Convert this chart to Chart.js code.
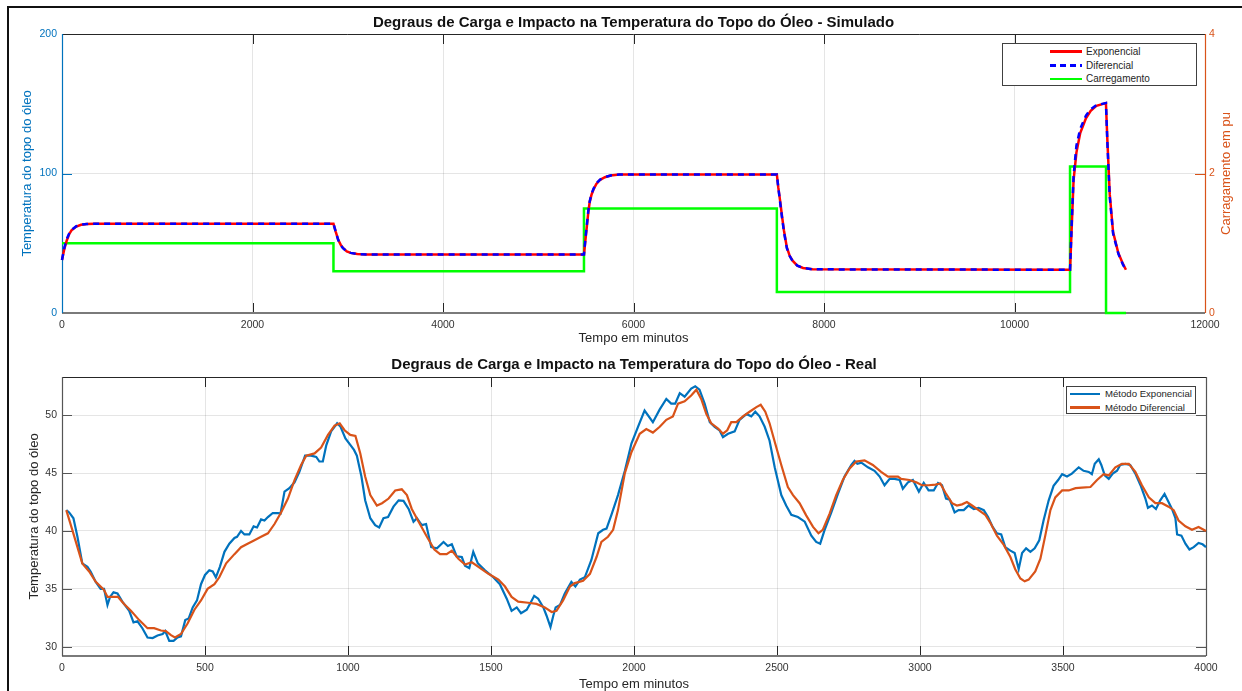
<!DOCTYPE html>
<html lang="pt-BR">
<head>
<meta charset="utf-8">
<title>Degraus de Carga e Impacto na Temperatura do Topo do Óleo</title>
<script src="https://cdn.jsdelivr.net/npm/chart.js@4.4.1/dist/chart.umd.min.js"></script>
<style>
    html, body { margin: 0; padding: 0; background: #fff; overflow: hidden; }
    body { position: relative; width: 1242px; height: 691px; font-family: "Liberation Sans", Arial, sans-serif; }
    .moldura { position: absolute; left: 7px; top: 6px; width: 1240px; height: 690px; border-left: 2px solid #111; border-top: 2px solid #111; }
    #graficoSim { position: absolute; left: 0; top: 0; }
    #graficoReal { position: absolute; left: 0; top: 352px; }
    .legenda { position: absolute; background: #fff; border: 1px solid #404040; box-sizing: border-box; color: #262626; }
    .legenda .amostra { position: absolute; height: 2.5px; }
    .legenda .texto { position: absolute; white-space: nowrap; line-height: 1; }
</style>
</head>
<body>
<div class="moldura"></div>
<canvas id="graficoSim" width="1242" height="352"></canvas>
<canvas id="graficoReal" width="1242" height="345"></canvas>
<div class="legenda" id="legSim" style="left:1002px; top:43px; width:195px; height:43px;"></div>
<div class="legenda" id="legReal" style="left:1066px; top:386px; width:130px; height:28px;"></div>
<script>
// ---- Dados: gráfico simulado (tempo em minutos) ----
const tempoSimExp = [0, 25, 50, 75, 100, 150, 200, 260, 350, 2850, 2875, 2900, 2925, 2950, 2990, 3030, 3100, 3200,
    5480, 5495, 5510, 5525, 5540, 5560, 5580, 5610, 5650, 5700, 5760, 5850, 7505, 7520, 7540, 7560, 7580, 7610, 7640,
    7670, 7720, 7780, 7880, 10583, 10600, 10620, 10650, 10690, 10750, 10800, 10860, 10960, 10975, 11000, 11035, 11090,
    11140, 11170];
const tempSimExp = [38, 46, 52, 56.5, 59.3, 62, 63.2, 63.8, 64, 64, 58, 52.5, 49, 46.6, 44.2, 43.1, 42.3, 42,
    42, 52, 62, 72, 79.5, 85, 88.5, 92.5, 95.5, 97.3, 98.5, 99.2, 99.3, 90, 80, 69, 59, 47, 41,
    37.5, 34, 32.3, 31.3, 31, 60, 95, 115, 129, 139.5, 145, 148.5, 150.5, 124, 85, 58, 43,
    35, 31];
const tempoSimDif = [0, 25, 50, 75, 100, 150, 200, 260, 350, 2850, 2875, 2900, 2925, 2950, 2990, 3030, 3100, 3200,
    5480, 5495, 5510, 5525, 5540, 5560, 5580, 5610, 5650, 5700, 5760, 5850, 7505, 7520, 7540, 7560, 7580, 7610, 7640,
    7670, 7720, 7780, 7880, 10583, 10600, 10620, 10650, 10690, 10750, 10800, 10860, 10960, 10975, 11000, 11035, 11090,
    11140, 11170];
const tempSimDif = [38, 47, 53, 57, 59.6, 62.2, 63.3, 63.8, 64, 64, 58, 52.3, 48.8, 46.5, 44.2, 43.1, 42.3, 42,
    42, 53, 63, 73, 80, 85.5, 89, 93, 95.7, 97.4, 98.6, 99.2, 99.3, 90, 79, 68, 58, 46.5, 40.8,
    37.3, 34, 32.3, 31.3, 31, 63, 98, 120, 132, 141.5, 146, 149, 150.5, 122, 83, 57, 42.5,
    34.5, 31];
const tempoCarga = [0, 2850, 5480, 7505, 10583, 10961, 11171];
const carga = [1.0, 0.6, 1.5, 0.3, 2.1, 0, 0];

// ---- Dados: gráfico real ----
const tempoRealExp = [15, 25, 40, 54, 71, 89, 100, 118, 135, 147, 159, 168, 180, 194, 211, 235, 250, 264, 281, 299,
    317, 334, 352, 361, 375, 390, 404, 416, 431, 443, 457, 472, 486, 500, 515, 527, 538, 552, 568, 585,
    603, 612, 626, 638, 655, 670, 682, 696, 708, 720, 737, 755, 764, 778, 795, 813, 830, 850, 871, 889,
    900, 912, 924, 941, 962, 974, 991, 1006, 1021, 1031, 1047, 1060, 1078, 1095, 1109, 1124, 1140, 1159, 1177, 1194,
    1212, 1229, 1241, 1258, 1273, 1291, 1311, 1334, 1349, 1363, 1380, 1398, 1409, 1424, 1438, 1454, 1479, 1508, 1531, 1555,
    1572, 1590, 1605, 1625, 1636, 1651, 1665, 1683, 1694, 1708, 1718, 1726, 1741, 1758, 1781, 1795, 1811, 1828, 1851, 1875,
    1892, 1904, 1921, 1944, 1968, 1991, 2014, 2037, 2066, 2090, 2113, 2130, 2144, 2160, 2177, 2200, 2214, 2229, 2247, 2265,
    2282, 2299, 2311, 2329, 2352, 2369, 2393, 2410, 2424, 2439, 2457, 2474, 2492, 2515, 2532, 2550, 2573, 2597, 2620, 2637,
    2651, 2666, 2690, 2713, 2736, 2760, 2771, 2781, 2795, 2818, 2841, 2859, 2876, 2894, 2911, 2929, 2940, 2958, 2975, 2996,
    3013, 3030, 3048, 3063, 3077, 3091, 3104, 3121, 3135, 3153, 3170, 3188, 3205, 3223, 3238, 3254, 3269, 3284, 3298, 3316,
    3331, 3345, 3357, 3371, 3386, 3401, 3417, 3432, 3450, 3467, 3483, 3497, 3514, 3531, 3555, 3572, 3590, 3601, 3611, 3625,
    3634, 3646, 3660, 3674, 3689, 3700, 3718, 3735, 3753, 3771, 3788, 3797, 3811, 3825, 3840, 3855, 3869, 3881, 3893, 3899,
    3914, 3928, 3942, 3957, 3974, 3988, 4000];
const tempRealExp = [41.8, 41.6, 41.1, 39.5, 37.2, 36.9, 36.5, 35.6, 35.0, 35.0, 33.6, 34.3, 34.7, 34.6, 33.9, 33.1, 32.1, 32.2, 31.6, 30.8,
    30.75, 30.97, 31.1, 31.35, 30.5, 30.5, 30.8, 30.9, 32.3, 32.45, 33.4, 34.0, 35.4, 36.2, 36.6, 36.5, 36.0, 36.9, 38.2, 38.9,
    39.4, 39.5, 40.0, 39.7, 39.7, 40.4, 40.3, 41.0, 40.9, 41.2, 41.55, 41.55, 41.5, 43.4, 43.7, 44.2, 45.1, 46.5, 46.5, 46.4,
    46.0, 46.0, 47.4, 48.6, 49.3, 49.0, 48.0, 47.5, 47.0, 46.5, 44.7, 42.65, 41.1, 40.5, 40.3, 41.1, 41.2, 42.1, 42.65, 42.6,
    41.9, 40.8, 41.1, 40.5, 40.6, 38.6, 38.5, 39.05, 38.7, 38.85, 37.8, 37.75, 37.0, 36.8, 38.2, 37.2, 36.6, 36.0, 35.4, 34.15,
    33.1, 33.4, 32.9, 33.2, 33.7, 34.4, 34.15, 33.4, 32.7, 31.7, 32.7, 33.4, 33.6, 34.6, 35.6, 35.2, 35.8, 36.0, 37.5, 39.8,
    40.1, 40.2, 41.4, 43.1, 45.2, 47.55, 49.0, 50.4, 49.4, 50.5, 51.4, 51.0, 51.0, 51.9, 51.6, 52.3, 52.5, 52.2, 51.0, 49.4,
    49.0, 48.7, 48.1, 48.4, 48.6, 49.6, 50.1, 49.9, 50.3, 49.9, 49.0, 47.8, 45.5, 43.1, 42.2, 41.4, 41.2, 40.8, 39.6, 39.05,
    38.9, 40.05, 41.6, 43.2, 44.7, 45.7, 46.05, 45.8, 45.9, 45.5, 45.2, 44.7, 43.95, 44.5, 44.5, 44.4, 43.65, 44.2, 44.4, 43.4,
    44.15, 43.5, 43.5, 44.15, 43.95, 42.8, 42.7, 41.6, 41.8, 41.8, 42.2, 41.9, 42.0, 41.8, 41.2, 40.35, 39.8, 39.7, 38.6, 38.3,
    38.1, 36.7, 38.1, 38.5, 38.2, 38.5, 39.2, 40.9, 42.65, 43.9, 44.4, 44.9, 44.7, 44.95, 45.5, 45.2, 45.1, 44.9, 45.8, 46.2,
    45.7, 44.8, 44.5, 44.95, 45.2, 45.7, 45.8, 45.7, 44.95, 43.95, 42.8, 42.0, 42.2, 41.9, 42.65, 43.2, 42.5, 41.9, 41.1, 39.7,
    39.6, 38.9, 38.4, 38.6, 38.96, 38.85, 38.6];
const tempoRealDif = [15, 36, 54, 71, 95, 118, 147, 159, 176, 196, 217, 241, 270, 299, 322, 346, 363, 381, 395, 416,
    439, 463, 486, 509, 533, 550, 574, 603, 626, 649, 673, 696, 720, 743, 766, 790, 813, 836, 854, 883,
    906, 930, 953, 971, 988, 1008, 1026, 1043, 1060, 1078, 1101, 1119, 1142, 1165, 1188, 1206, 1223, 1247, 1276, 1302,
    1322, 1345, 1363, 1386, 1409, 1433, 1456, 1491, 1526, 1549, 1572, 1595, 1630, 1659, 1688, 1712, 1729, 1752, 1776, 1793,
    1822, 1846, 1869, 1886, 1909, 1927, 1944, 1968, 1991, 2020, 2043, 2066, 2090, 2113, 2136, 2154, 2177, 2200, 2218, 2235,
    2253, 2270, 2294, 2311, 2326, 2340, 2358, 2381, 2404, 2428, 2443, 2459, 2474, 2492, 2515, 2538, 2556, 2579, 2602, 2626,
    2645, 2660, 2684, 2707, 2730, 2754, 2777, 2806, 2835, 2864, 2888, 2923, 2934, 2963, 2987, 3007, 3030, 3054, 3071, 3089,
    3112, 3129, 3147, 3164, 3182, 3205, 3228, 3246, 3269, 3293, 3316, 3333, 3351, 3366, 3380, 3403, 3421, 3438, 3456, 3473,
    3497, 3520, 3544, 3566, 3596, 3619, 3642, 3660, 3683, 3706, 3730, 3753, 3776, 3800, 3823, 3846, 3869, 3887, 3904, 3928,
    3951, 3974, 4000];
const tempRealDif = [41.8, 40.1, 38.6, 37.2, 36.5, 35.6, 34.9, 34.3, 34.3, 34.3, 33.7, 33.1, 32.3, 31.6, 31.6, 31.4, 31.35, 31.0, 30.8, 31.1,
    32.0, 33.2, 34.0, 35.0, 35.4, 36.0, 37.2, 38.0, 38.6, 38.9, 39.2, 39.5, 39.8, 40.6, 41.6, 42.8, 44.4, 45.7, 46.5, 46.7,
    47.2, 48.3, 49.1, 49.3, 48.7, 48.3, 48.2, 46.7, 44.7, 43.1, 42.2, 42.4, 42.8, 43.5, 43.6, 43.1, 41.9, 40.8, 39.5, 38.4,
    38.0, 38.0, 38.3, 37.6, 37.1, 37.3, 36.9, 36.3, 35.8, 35.2, 34.3, 33.9, 33.8, 33.7, 33.4, 33.0, 33.1, 34.0, 35.2, 35.5,
    35.7, 36.3, 37.75, 39.05, 39.5, 40.1, 41.8, 45.0, 46.8, 48.4, 48.8, 48.5, 49.0, 49.6, 49.9, 51.0, 51.2, 51.7, 52.2, 51.4,
    50.1, 49.3, 48.85, 48.4, 48.7, 49.4, 49.4, 49.9, 50.3, 50.7, 50.9, 50.3, 49.3, 47.7, 45.7, 43.8, 43.1, 42.4, 41.35, 40.35,
    39.8, 40.1, 41.5, 43.1, 44.4, 45.4, 46.0, 46.1, 45.7, 45.1, 44.7, 44.7, 44.5, 44.4, 44.2, 43.95, 43.95, 44.0, 44.1, 43.3,
    42.4, 42.2, 42.3, 42.5, 42.2, 41.8, 41.4, 40.7, 39.6, 38.8, 37.75, 36.7, 35.9, 35.65, 35.8, 36.5, 37.6, 39.6, 41.8, 42.9,
    43.5, 43.5, 43.7, 43.75, 43.8, 44.4, 44.9, 44.8, 45.5, 45.8, 45.8, 45.1, 43.95, 42.9, 42.4, 42.4, 42.1, 41.8, 40.9, 40.4,
    40.1, 40.35, 40.0];

// Ticks
const ticksSimX = 2000, ticksSimY = 100, ticksSimY1 = 2;
const ticksRealX = 500, ticksRealY = 5;

// Cores (padrão MATLAB)
const AZUL_EIXO = '#0072BD';
const LARANJA_EIXO = '#D95319';
const COR_GRADE = 'rgba(38, 38, 38, 0.12)';
const COR_TEXTO = '#333333';

Chart.defaults.font.family = '"Liberation Sans", Arial, Helvetica, sans-serif';
Chart.defaults.color = COR_TEXTO;

const pares = (xs, ys) => xs.map((x, i) => ({ x: x, y: ys[i] }));

// Caixa dos eixos e marcas internas (estilo MATLAB), desenhadas por baixo das curvas
const pluginMoldura = {
    id: 'moldura',
    beforeDatasetsDraw(chart, args, opts) {
        const ctx = chart.ctx;
        const a = chart.chartArea;
        const s = chart.scales;
        const tam = 10;
        ctx.save();
        ctx.lineWidth = 1;

        function marcas(escala, lado, cor) {
            ctx.strokeStyle = cor;
            ctx.beginPath();
            escala.ticks.forEach(t => {
                const p = Math.round(escala.getPixelForValue(t.value)) + 0.5;
                if (lado === 'x') {
                    ctx.moveTo(p, a.bottom); ctx.lineTo(p, a.bottom - tam);
                    ctx.moveTo(p, a.top); ctx.lineTo(p, a.top + tam);
                } else if (lado === 'esq') {
                    ctx.moveTo(a.left, p); ctx.lineTo(a.left + tam, p);
                } else {
                    ctx.moveTo(a.right, p); ctx.lineTo(a.right - tam, p);
                }
            });
            ctx.stroke();
        }

        marcas(s.x, 'x', '#262626');
        marcas(s.y, 'esq', opts.corEsq);
        marcas(s.y1 || s.y, 'dir', opts.corDir);

        // bordas
        ctx.strokeStyle = '#262626';
        ctx.beginPath();
        ctx.moveTo(a.left, Math.round(a.top) + 0.5); ctx.lineTo(a.right, Math.round(a.top) + 0.5);
        ctx.stroke();
        ctx.strokeStyle = '#7a7a7a';
        ctx.lineWidth = 2;
        ctx.beginPath();
        ctx.moveTo(a.left, Math.round(a.bottom)); ctx.lineTo(a.right, Math.round(a.bottom));
        ctx.stroke();
        ctx.lineWidth = 1.2;
        ctx.strokeStyle = opts.corEsq;
        ctx.beginPath();
        ctx.moveTo(Math.round(a.left) + 0.5, a.top); ctx.lineTo(Math.round(a.left) + 0.5, a.bottom);
        ctx.stroke();
        ctx.strokeStyle = opts.corDir;
        ctx.beginPath();
        ctx.moveTo(Math.round(a.right) + 0.5, a.top); ctx.lineTo(Math.round(a.right) + 0.5, a.bottom);
        ctx.stroke();
        ctx.restore();
    },
    afterDraw(chart, args, opts) {
        // título do eixo direito (lido de baixo para cima)
        if (!opts.tituloDir) return;
        const ctx = chart.ctx;
        const a = chart.chartArea;
        ctx.save();
        ctx.fillStyle = opts.corDir;
        ctx.font = '13px "Liberation Sans", Arial, sans-serif';
        ctx.textAlign = 'center';
        ctx.textBaseline = 'middle';
        ctx.translate(opts.xTituloDir, (a.top + a.bottom) / 2);
        ctx.rotate(-Math.PI / 2);
        ctx.fillText(opts.tituloDir, 0, 0);
        ctx.restore();
    }
};

function eixoX(max, passo, altura, padTitulo) {
    return {
        type: 'linear', min: 0, max: max,
        ticks: { stepSize: passo, color: COR_TEXTO, font: { size: 10.5 }, padding: 6, maxRotation: 0, callback: v => String(v) },
        grid: { color: COR_GRADE, drawTicks: false },
        border: { display: false },
        title: { display: true, text: 'Tempo em minutos', color: '#262626', font: { size: 13 }, padding: { top: 0, bottom: padTitulo } },
        afterFit(escala) { escala.height = altura; }
    };
}

// ---- Gráfico simulado ----
const graficoSim = new Chart(document.getElementById('graficoSim'), {
    type: 'line',
    data: {
        datasets: [
            {
                label: 'Exponencial', data: pares(tempoSimExp, tempSimExp), yAxisID: 'y',
                borderColor: '#FF0000', borderWidth: 2.5, pointRadius: 0, tension: 0, order: 1, clip: 3
            },
            {
                label: 'Diferencial', data: pares(tempoSimDif, tempSimDif), yAxisID: 'y',
                borderColor: '#0000FF', borderWidth: 2.5, borderDash: [6, 5], pointRadius: 0, tension: 0, order: 0, clip: 3
            },
            {
                // degrau: mantém o valor até o próximo instante
                label: 'Carregamento', data: pares(tempoCarga, carga), yAxisID: 'y1',
                borderColor: '#00FF00', borderWidth: 2.5, stepped: 'before', pointRadius: 0, order: 2, clip: 4
            }
        ]
    },
    options: {
        responsive: false,
        animation: false,
        devicePixelRatio: 1,
        layout: { padding: 0 },
        plugins: {
            legend: { display: false },
            tooltip: { enabled: false },
            title: {
                display: true, fullSize: false,
                text: 'Degraus de Carga e Impacto na Temperatura do Topo do Óleo - Simulado',
                color: '#111', font: { size: 15, weight: 'bold' }, padding: { top: 14, bottom: 2 }
            },
            moldura: { corEsq: AZUL_EIXO, corDir: LARANJA_EIXO, tituloDir: 'Carragamento em pu', xTituloDir: 1226 }
        },
        scales: {
            x: eixoX(12000, ticksSimX, 39, 6),
            y: {
                position: 'left', min: 0, max: 200,
                ticks: { stepSize: ticksSimY, color: AZUL_EIXO, font: { size: 10.5 }, padding: 5 },
                grid: { color: COR_GRADE, drawTicks: false },
                border: { display: false },
                title: { display: true, text: 'Temperatura do topo do óleo', color: AZUL_EIXO, font: { size: 13 }, padding: { top: 20, bottom: 0 } },
                afterFit(escala) { escala.width = 62; }
            },
            y1: {
                position: 'right', min: 0, max: 4,
                ticks: { stepSize: ticksSimY1, color: LARANJA_EIXO, font: { size: 10.5 }, padding: 4 },
                grid: { display: false, drawTicks: false },
                border: { display: false },
                afterFit(escala) { escala.width = 37; }
            }
        }
    },
    plugins: [pluginMoldura]
});

// ---- Gráfico real ----
const graficoReal = new Chart(document.getElementById('graficoReal'), {
    type: 'line',
    data: {
        datasets: [
            {
                label: 'Método Exponencial', data: pares(tempoRealExp, tempRealExp),
                borderColor: AZUL_EIXO, borderWidth: 2.2, pointRadius: 0, tension: 0, order: 1, clip: 3
            },
            {
                label: 'Método Diferencial', data: pares(tempoRealDif, tempRealDif),
                borderColor: LARANJA_EIXO, borderWidth: 2.2, pointRadius: 0, tension: 0, order: 0, clip: 3
            }
        ]
    },
    options: {
        responsive: false,
        animation: false,
        devicePixelRatio: 1,
        layout: { padding: { left: 0, right: 36, top: 0, bottom: 0 } },
        plugins: {
            legend: { display: false },
            tooltip: { enabled: false },
            title: {
                display: true, fullSize: false,
                text: 'Degraus de Carga e Impacto na Temperatura do Topo do Óleo - Real',
                color: '#111', font: { size: 15, weight: 'bold' }, padding: { top: 4, bottom: 3 }
            },
            moldura: { corEsq: '#555555', corDir: '#555555' }
        },
        scales: {
            x: eixoX(4000, ticksRealX, 41, 5),
            y: {
                position: 'left', min: 29.2, max: 53.3,
                ticks: { stepSize: ticksRealY, includeBounds: false, color: COR_TEXTO, font: { size: 10.5 }, padding: 5 },
                grid: { color: COR_GRADE, drawTicks: false },
                border: { display: false },
                title: { display: true, text: 'Temperatura do topo do óleo', color: '#262626', font: { size: 13 }, padding: { top: 27, bottom: 0 } },
                afterFit(escala) { escala.width = 62; }
            }
        }
    },
    plugins: [pluginMoldura]
});

// ---- Legendas (caixas no canto superior direito) ----
function montarLegenda(idCaixa, grafico, cfg) {
    const caixa = document.getElementById(idCaixa);
    grafico.data.datasets.forEach((ds, i) => {
        const cy = cfg.linhas[i];
        const amostra = document.createElement('div');
        amostra.className = 'amostra';
        amostra.style.left = cfg.xAmostra + 'px';
        amostra.style.width = cfg.largAmostra + 'px';
        amostra.style.top = (cy - 1.25) + 'px';
        if (ds.borderDash) {
            amostra.style.background = 'repeating-linear-gradient(90deg, ' + ds.borderColor + ' 0 6px, transparent 6px 10px)';
        } else {
            amostra.style.background = ds.borderColor;
        }
        caixa.appendChild(amostra);

        const texto = document.createElement('div');
        texto.className = 'texto';
        texto.textContent = ds.label;
        texto.style.left = cfg.xTexto + 'px';
        texto.style.fontSize = cfg.fonte + 'px';
        texto.style.top = (cy - cfg.fonte / 2) + 'px';
        caixa.appendChild(texto);
    });
}

montarLegenda('legSim', graficoSim, { linhas: [7.7, 21.7, 35], xAmostra: 47, largAmostra: 32, xTexto: 83, fonte: 10 });
montarLegenda('legReal', graficoReal, { linhas: [7, 20.3], xAmostra: 3, largAmostra: 30, xTexto: 38, fonte: 9.6 });
</script>
</body>
</html>
